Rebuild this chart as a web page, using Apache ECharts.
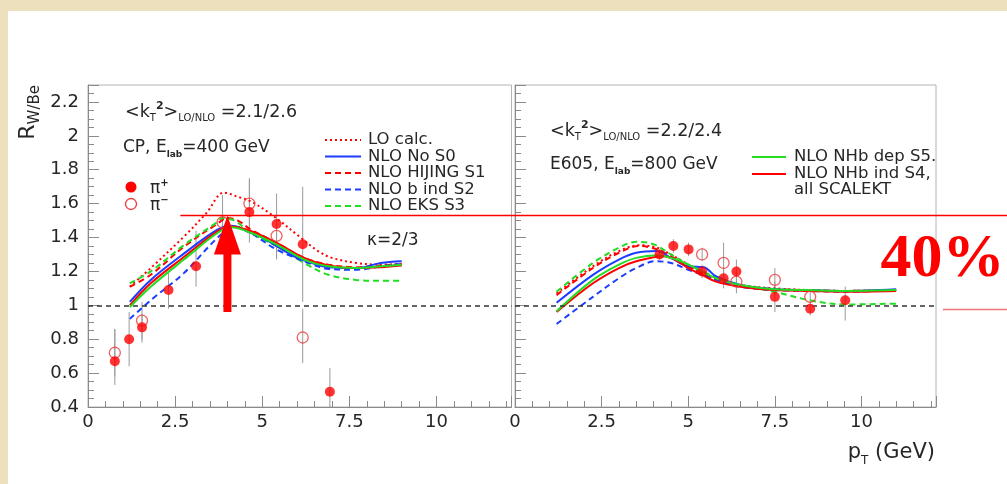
<!DOCTYPE html>
<html>
<head>
<meta charset="utf-8">
<script src="https://cdn.jsdelivr.net/npm/echarts@6/dist/echarts.min.js"></script>
<style>
  html, body { margin: 0; padding: 0; background: #fff; }
  #chart { width: 1007px; height: 484px; }
</style>
</head>
<body>
<div id="chart"></div>
<script>
// ---- CP, E_lab = 400 GeV : theory curves [pT, R] ----
const cpLO = [[1.2,1.11],[1.8,1.22],[2.75,1.405],[3.4,1.545],[3.9,1.665],[4.3,1.64],[4.7,1.61],[5.3,1.53],[6.1,1.40],[6.6,1.32],[7.0,1.28],[7.7,1.25],[8.4,1.24],[9.0,1.245]];
const cpS0 = [[1.2,1.02],[1.8,1.15],[2.75,1.305],[3.7,1.445],[4.1,1.47],[4.65,1.43],[5.0,1.40],[5.4,1.35],[5.9,1.29],[6.2,1.265],[6.9,1.225],[7.7,1.22],[8.4,1.25],[9.0,1.26]];
const cpS1 = [[1.2,1.11],[1.8,1.18],[2.75,1.345],[3.7,1.48],[4.0,1.515],[4.3,1.50],[4.65,1.45],[5.4,1.37],[6.2,1.28],[6.9,1.24],[7.7,1.225],[8.4,1.235],[9.0,1.24]];
const cpS2 = [[1.2,0.92],[1.8,1.03],[2.75,1.19],[3.7,1.395],[4.2,1.465],[4.65,1.43],[5.4,1.33],[6.2,1.26],[6.9,1.215],[7.7,1.21],[8.4,1.23],[9.0,1.245]];
const cpS3 = [[1.2,1.13],[1.8,1.20],[2.75,1.355],[3.7,1.49],[3.85,1.515],[4.2,1.50],[4.65,1.43],[5.4,1.35],[6.2,1.25],[6.9,1.18],[7.7,1.15],[8.4,1.145],[9.0,1.145]];
const cpS4 = [[1.2,1.00],[1.8,1.13],[2.75,1.285],[3.7,1.435],[4.1,1.465],[4.65,1.44],[5.4,1.37],[6.2,1.28],[6.9,1.235],[7.7,1.22],[8.4,1.225],[9.0,1.235]];
const cpS5 = [[1.2,0.99],[1.8,1.11],[2.75,1.27],[3.7,1.425],[4.1,1.46],[4.65,1.43],[5.4,1.36],[6.2,1.27],[6.9,1.23],[7.7,1.22],[8.4,1.23],[9.0,1.24]];

// ---- CP data: points [pT, R] and error ranges [low, high] ----
const cpPiPlus     = [[0.77,0.67],[1.18,0.80],[1.55,0.87],[2.31,1.09],[3.10,1.23],[4.63,1.55],[5.41,1.48],[6.16,1.36],[6.94,0.49]];
const cpPiPlusErr  = [[0.53,0.86],[0.64,0.96],[0.78,0.95],[0.98,1.19],[1.11,1.44],[1.37,1.74],[1.27,1.66],[1.02,1.70],[0.40,0.63]];
const cpPiMinus    = [[0.77,0.72],[1.55,0.91],[3.86,1.49],[4.63,1.60],[5.41,1.41],[6.16,0.81]];
const cpPiMinusErr = [[0.58,0.86],[0.80,1.02],[1.33,1.65],[1.45,1.75],[1.28,1.55],[0.66,0.98]];

// ---- E605, E_lab = 800 GeV : theory curves ----
const e6LO = [[1.2,1.07],[2.25,1.23],[3.0,1.32],[3.6,1.355],[4.1,1.34],[4.5,1.30],[5.0,1.24],[5.4,1.19],[5.8,1.155],[6.5,1.12],[7.5,1.10],[8.5,1.09],[9.5,1.085],[11.0,1.09]];
const e6S0 = [[1.2,1.015],[2.25,1.18],[3.0,1.27],[3.5,1.31],[4.1,1.32],[4.5,1.28],[5.0,1.23],[5.45,1.225],[5.8,1.17],[6.5,1.12],[7.5,1.095],[8.5,1.09],[9.5,1.085],[11.0,1.095]];
const e6S1 = [[1.2,1.06],[2.25,1.22],[3.0,1.31],[3.6,1.35],[4.1,1.33],[4.5,1.29],[5.0,1.23],[5.4,1.19],[5.8,1.15],[6.5,1.115],[7.5,1.095],[8.5,1.09],[9.5,1.085],[11.0,1.09]];
const e6S2 = [[1.2,0.89],[2.25,1.05],[3.0,1.16],[3.5,1.22],[4.05,1.26],[4.5,1.25],[5.0,1.21],[5.4,1.18],[5.8,1.15],[6.5,1.11],[7.5,1.09],[8.5,1.085],[9.5,1.08],[11.0,1.09]];
const e6S3 = [[1.2,1.08],[2.25,1.25],[3.0,1.34],[3.5,1.375],[4.0,1.36],[4.5,1.30],[5.0,1.24],[5.4,1.20],[5.8,1.17],[6.5,1.12],[7.5,1.08],[8.5,1.03],[9.5,1.005],[11.0,1.01]];
const e6S4 = [[1.2,0.96],[2.25,1.13],[3.0,1.22],[3.5,1.26],[4.3,1.29],[4.7,1.26],[5.0,1.22],[5.4,1.18],[5.8,1.14],[6.5,1.11],[7.5,1.09],[8.5,1.085],[9.5,1.08],[11.0,1.085]];
const e6S5 = [[1.2,0.965],[2.25,1.15],[3.0,1.24],[3.5,1.28],[4.1,1.295],[4.5,1.28],[5.0,1.24],[5.4,1.20],[5.8,1.16],[6.5,1.12],[7.5,1.095],[8.5,1.09],[9.5,1.085],[11.0,1.09]];

// ---- E605 data ----
const e6PiPlus     = [[4.17,1.30],[4.57,1.35],[5.01,1.33],[5.40,1.20],[6.02,1.16],[6.39,1.20],[7.50,1.05],[8.52,0.98],[9.53,1.03]];
const e6PiPlusErr  = [[1.27,1.33],[1.31,1.39],[1.29,1.37],[1.16,1.24],[1.10,1.22],[1.13,1.27],[0.96,1.14],[0.94,1.02],[0.91,1.11]];
const e6PiMinus    = [[5.40,1.30],[6.02,1.25],[6.39,1.14],[7.50,1.15],[8.52,1.05]];
const e6PiMinusErr = [[1.26,1.34],[1.14,1.37],[1.07,1.21],[1.06,1.22],[1.00,1.08]];

// ---- axes ----
const xRange = [0, 12.15];
const xStep = 2.5;
const yRange = [0.4, 2.3];
const yStep = 0.2;
const unity = 1;

// ---- highlighted enhancement ----
const peakLevel = 1.53;     // horizontal marker level
const markStartX = 2.65;
const arrowX = 4.0;
const arrowFoot = 0.96;
const arrowHead = 1.30;
const lowLevel = 0.975;
const lowStartX = 12.35;
const enhanceLabel = '40%';
const enhanceAt = [10.55, 1.27];

const RED = '#ff0000', BLUE = '#1c3cff', GREEN = '#22dd22';
const DOT = [2, 3], DASH = [6, 4];
const FONT = 'DejaVu Sans';
const INK = '#262626';

const curveDefs = [
  { name: 'LO calc.',         color: RED,   dash: DOT,     cp: cpLO, e6: e6LO },
  { name: 'NLO HIJING S1',    color: RED,   dash: DASH,    cp: cpS1, e6: e6S1 },
  { name: 'NLO EKS S3',       color: GREEN, dash: DASH,    cp: cpS3, e6: e6S3 },
  { name: 'NLO b ind S2',     color: BLUE,  dash: DASH,    cp: cpS2, e6: e6S2 },
  { name: 'NLO No S0',        color: BLUE,  dash: 'solid', cp: cpS0, e6: e6S0 },
  { name: 'NLO NHb ind S4',   color: RED,   dash: 'solid', cp: cpS4, e6: e6S4 },
  { name: 'NLO NHb dep S5',   color: GREEN, dash: 'solid', cp: cpS5, e6: e6S5 }
];

function curve(def, data, gi) {
  return {
    name: def.name, type: 'line', xAxisIndex: gi, yAxisIndex: gi,
    data: data, smooth: 0.35, symbol: 'none', silent: true, z: 3,
    lineStyle: { color: def.color, width: 2, type: def.dash }
  };
}

function errorBars(pts, errs, gi) {
  return {
    type: 'custom', xAxisIndex: gi, yAxisIndex: gi, silent: true, z: 2,
    data: pts.map((p, i) => [p[0], errs[i][0], errs[i][1]]),
    encode: { x: 0, y: [1, 2] },
    renderItem: (params, api) => {
      const a = api.coord([api.value(0), api.value(1)]);
      const b = api.coord([api.value(0), api.value(2)]);
      return { type: 'line', shape: { x1: a[0], y1: a[1], x2: b[0], y2: b[1] },
               style: { stroke: '#9a9a9a', lineWidth: 1 } };
    }
  };
}

function filled(pts, gi) {
  return {
    type: 'scatter', xAxisIndex: gi, yAxisIndex: gi, data: pts, silent: true, z: 6,
    symbol: 'circle', symbolSize: 10, itemStyle: { color: RED },
    markLine: {
      silent: true, symbol: ['none', 'none'], label: { show: false },
      lineStyle: { color: '#333', type: [5, 4], width: 1.5 },
      data: [{ yAxis: unity }]
    }
  };
}

function hollow(pts, gi) {
  return {
    type: 'scatter', xAxisIndex: gi, yAxisIndex: gi, data: pts, silent: true, z: 5,
    symbol: 'circle', symbolSize: 11,
    itemStyle: { color: 'rgba(0,0,0,0)', borderColor: '#ee3a3a', borderWidth: 1.3 }
  };
}

function xAxis(gi) {
  return {
    type: 'value', gridIndex: gi, min: xRange[0], max: xRange[1], interval: xStep,
    axisLine: { show: true, onZero: false, lineStyle: { color: '#8a8a8a' } },
    axisTick: { show: true, inside: true, length: 11, lineStyle: { color: '#8a8a8a' } },
    minorTick: { show: true, splitNumber: 5, length: 6, lineStyle: { color: '#8a8a8a' } },
    splitLine: { show: false },
    axisLabel: { color: INK, fontFamily: FONT, fontSize: 18, margin: 6, showMaxLabel: false }
  };
}

function yAxis(gi) {
  return {
    type: 'value', gridIndex: gi, min: yRange[0], max: yRange[1], interval: yStep,
    axisLine: { show: true, onZero: false, lineStyle: { color: '#8a8a8a' } },
    axisTick: { show: true, inside: true, length: 11, lineStyle: { color: '#8a8a8a' } },
    minorTick: { show: true, splitNumber: 4, length: 6, lineStyle: { color: '#8a8a8a' } },
    splitLine: { show: false },
    axisLabel: { show: gi === 0, color: INK, fontFamily: FONT, fontSize: 18, margin: 9, showMaxLabel: false }
  };
}

const series = [];
[0, 1].forEach(gi => {
  curveDefs.forEach(d => series.push(curve(d, gi === 0 ? d.cp : d.e6, gi)));
});
series.push(errorBars(cpPiPlus, cpPiPlusErr, 0), errorBars(cpPiMinus, cpPiMinusErr, 0));
series.push(errorBars(e6PiPlus, e6PiPlusErr, 1), errorBars(e6PiMinus, e6PiMinusErr, 1));
series.push(hollow(cpPiMinus, 0), filled(cpPiPlus, 0));
series.push(hollow(e6PiMinus, 1), filled(e6PiPlus, 1));

const chart = echarts.init(document.getElementById('chart'), null, { renderer: 'canvas' });
chart.setOption({
  animation: false,
  backgroundColor: '#fff',
  grid: [
    { left: 88, top: 85, width: 423.5, height: 322, show: true, borderColor: '#b4b4b4', borderWidth: 1 },
    { left: 515, top: 85, width: 421, height: 322, show: true, borderColor: '#b4b4b4', borderWidth: 1 }
  ],
  xAxis: [xAxis(0), xAxis(1)],
  yAxis: [yAxis(0), yAxis(1)],
  series: series
});

// ---- texts, legends and the enhancement marker ----
function txt(x, y, text, size, extra, subRatio) {
  const sr = subRatio || 0.58;
  return Object.assign({
    type: 'text', x: x, y: y, z: 50, silent: true,
    style: Object.assign({
      text: text, fill: INK, fontFamily: FONT, fontSize: size,
      align: 'left', verticalAlign: 'middle', lineHeight: Math.round(size * 1.3),
      rich: {
        sub:  { fontFamily: FONT, fontSize: Math.round(size * sr), fill: INK, verticalAlign: 'bottom', lineHeight: Math.round(size * 0.6) },
        subb: { fontFamily: FONT, fontSize: Math.round(size * 0.55), fontWeight: 'bold', fill: INK, verticalAlign: 'bottom', lineHeight: Math.round(size * 0.6) },
        sup:  { fontFamily: FONT, fontSize: Math.round(size * 0.6), fontWeight: 'bold', fill: INK, verticalAlign: 'top', lineHeight: Math.round(size * 0.6) }
      }
    }, extra || {})
  });
}

function legendLine(x1, x2, y, color, dash) {
  return { type: 'line', z: 50, silent: true, shape: { x1: x1, y1: y, x2: x2, y2: y },
           style: { stroke: color, lineWidth: 2, lineDash: dash === 'solid' ? null : dash } };
}

const leftLegend = ['LO calc.', 'NLO No S0', 'NLO HIJING S1', 'NLO b ind S2', 'NLO EKS S3'];
const leftRows = [140, 156.5, 173, 189.5, 206];
const rightLegend = ['NLO NHb dep S5', 'NLO NHb ind S4'];
const rightLabels = ['NLO NHb dep S5.', 'NLO NHb ind S4,', 'all SCALEKT'];
const rightRows = [157, 174, 190];

const g = [
  { type: 'rect', z: 40, silent: true, shape: { x: 0, y: 0, width: 1007, height: 11 }, style: { fill: '#ece0bd' } },
  { type: 'rect', z: 40, silent: true, shape: { x: 0, y: 0, width: 8, height: 484 }, style: { fill: '#ece0bd' } },

  txt(125, 112, '<k{sub|T}{sup|2}>{sub|LO/NLO} =2.1/2.6', 17.5),
  txt(123, 148, 'CP, E{subb|lab}=400 GeV', 17),
  txt(150, 189, 'π{sup|+}', 17),
  txt(150, 206, 'π{sup|−}', 17),
  txt(367, 241, 'κ=2/3', 17),

  txt(550, 131, '<k{sub|T}{sup|2}>{sub|LO/NLO} =2.2/2.4', 17.5),
  txt(550, 165, 'E605, E{subb|lab}=800 GeV', 17),

  txt(935, 453, 'p{sub|T} (GeV)', 21, { align: 'right' }),
  Object.assign(txt(28, 85, 'R{sub|W/Be}', 22, { align: 'right' }, 0.68), { rotation: Math.PI / 2 }),

  { type: 'circle', z: 50, silent: true, shape: { cx: 131, cy: 187, r: 5.5 }, style: { fill: RED } },
  { type: 'circle', z: 50, silent: true, shape: { cx: 131, cy: 204, r: 5.5 }, style: { fill: 'none', stroke: '#ee3a3a', lineWidth: 1.3 } }
];

leftLegend.forEach((name, i) => {
  const d = curveDefs.find(c => c.name === name);
  g.push(legendLine(325, 361, leftRows[i], d.color, d.dash));
  g.push(txt(368, leftRows[i], name, 16.5));
});
rightLegend.forEach((name, i) => {
  const d = curveDefs.find(c => c.name === name);
  g.push(legendLine(752, 786, rightRows[i], d.color, d.dash));
});
rightLabels.forEach((t, i) => g.push(txt(794, rightRows[i], t, 16.5)));

const tip   = chart.convertToPixel({ gridIndex: 0 }, [arrowX, peakLevel]);
const foot  = chart.convertToPixel({ gridIndex: 0 }, [arrowX, arrowFoot]);
const head  = chart.convertToPixel({ gridIndex: 0 }, [arrowX, arrowHead]);
const start = chart.convertToPixel({ gridIndex: 0 }, [markStartX, peakLevel]);
const low   = chart.convertToPixel({ gridIndex: 1 }, [lowStartX, lowLevel]);
const lab   = chart.convertToPixel({ gridIndex: 1 }, enhanceAt);
const W = chart.getWidth();
const sw = 4, hw = 13.5;

g.push({ type: 'line', z: 60, silent: true, shape: { x1: start[0], y1: start[1], x2: W, y2: start[1] },
         style: { stroke: RED, lineWidth: 1.5 } });
g.push({ type: 'line', z: 60, silent: true, shape: { x1: low[0], y1: low[1], x2: W, y2: low[1] },
         style: { stroke: '#f07474', lineWidth: 1.5 } });
g.push({ type: 'polygon', z: 60, silent: true,
         shape: { points: [[tip[0] - sw, foot[1]], [tip[0] + sw, foot[1]], [tip[0] + sw, head[1]], [tip[0] + hw, head[1]],
                           [tip[0], tip[1]], [tip[0] - hw, head[1]], [tip[0] - sw, head[1]]] },
         style: { fill: RED } });
g.push({ type: 'text', z: 60, silent: true, x: lab[0], y: lab[1],
         style: { text: enhanceLabel, fill: RED, fontFamily: 'Liberation Serif', fontWeight: 'bold', fontSize: 62,
                  align: 'left', verticalAlign: 'middle' } });

chart.setOption({ graphic: g });
</script>
</body>
</html>
